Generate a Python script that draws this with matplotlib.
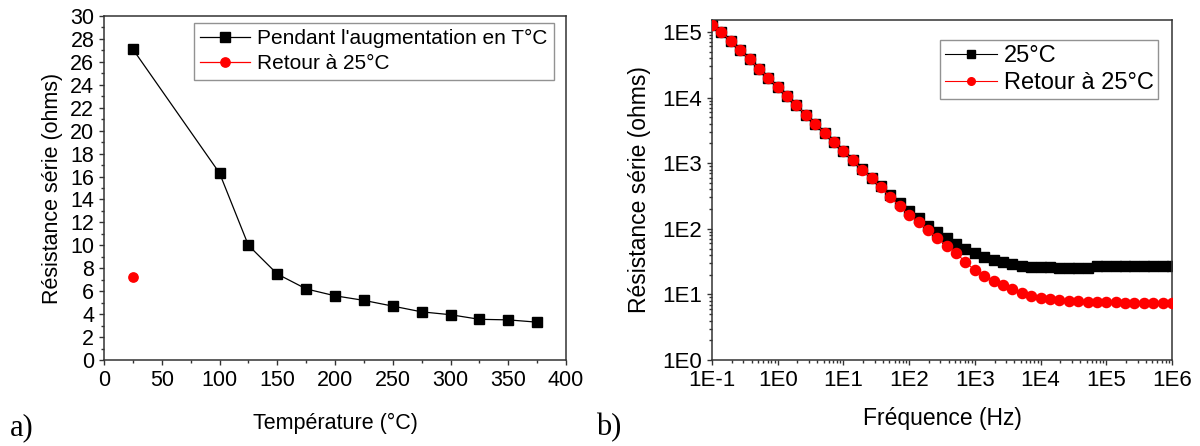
import numpy as np
import matplotlib
matplotlib.use("Agg")
import matplotlib.pyplot as plt
from matplotlib.ticker import MultipleLocator, LogLocator, FuncFormatter, NullFormatter

plt.rcParams['font.family'] = ['Liberation Sans', 'DejaVu Sans']

# --- Panel a) : series resistance vs temperature ---
temp_c = [25, 100, 125, 150, 175, 200, 225, 250, 275, 300, 325, 350, 375]
r_heating = [27.1, 16.3, 10.0, 7.5, 6.2, 5.6, 5.2, 4.7, 4.2, 3.95, 3.55, 3.5, 3.3]
temp_return = [25]
r_return = [7.2]

# --- Panel b) : series resistance vs frequency ---
freq_hz = [0.1, 0.139, 0.193, 0.268, 0.373, 0.518, 0.72,
           1.0, 1.39, 1.93, 2.68, 3.73, 5.18, 7.2,
           10, 13.9, 19.3, 26.8, 37.3, 51.8, 72,
           100, 139, 193, 268, 373, 518, 720,
           1000, 1390, 1930, 2680, 3730, 5180, 7200,
           1e4, 1.39e4, 1.93e4, 2.68e4, 3.73e4, 5.18e4, 7.2e4,
           1e5, 1.39e5, 1.93e5, 2.68e5, 3.73e5, 5.18e5, 7.2e5, 1e6]
r_25c = [128000, 100000, 72400, 52500, 38000, 27500, 19950,
         14450, 10470, 7590, 5500, 3990, 2900, 2110,
         1530, 1120, 813, 603, 447, 327, 245,
         186, 148, 110, 89, 73, 59, 49,
         42, 37.6, 33.9, 31.3, 29.2, 27.5, 26.6,
         26.0, 25.7, 25.4, 25.4, 25.4, 25.4, 27.4,
         27.4, 27.4, 27.4, 27.4, 27.4, 27.3, 27.3, 27.3]
r_back = [128000, 100000, 72400, 52500, 38000, 27500, 19950,
          14450, 10470, 7590, 5500, 3980, 2880, 2090,
          1510, 1100, 794, 590, 427, 302, 221,
          162, 126, 95, 72, 55, 42.7, 31,
          23.4, 19.0, 16.2, 13.8, 11.9, 10.5, 9.5,
          8.9, 8.4, 8.1, 7.9, 7.8, 7.7, 7.6,
          7.6, 7.55, 7.5, 7.5, 7.5, 7.5, 7.45, 7.45]

spine_col = '#333333'


def style_axes(ax):
    for side in ('top', 'right', 'left', 'bottom'):
        ax.spines[side].set_color(spine_col)
        ax.spines[side].set_linewidth(1.1)
    ax.tick_params(which='both', direction='out', top=False, right=False,
                   color=spine_col, width=1.0)
    ax.tick_params(which='major', length=3.5)
    ax.tick_params(which='minor', length=2)


fig = plt.figure(figsize=(12, 4.46), dpi=100)

# Left panel
ax1 = fig.add_axes([0.0867, 0.1928, 0.385, 0.7713])
ax1.plot(temp_c, r_heating, color='black', lw=0.9, marker='s', ms=6.5,
         label="Pendant l'augmentation en T°C")
ax1.plot(temp_return, r_return, color='red', lw=0.9, marker='o', ms=6.7,
         label='Retour à 25°C')
ax1.set_xlim(0, 400)
ax1.set_ylim(0, 30)
ax1.xaxis.set_major_locator(MultipleLocator(50))
ax1.xaxis.set_minor_locator(MultipleLocator(25))
ax1.yaxis.set_major_locator(MultipleLocator(2))
ax1.yaxis.set_minor_locator(MultipleLocator(1))
style_axes(ax1)
ax1.tick_params(labelsize=15.5)
ax1.set_xlabel('Température (°C)', fontsize=15.5, labelpad=16)
ax1.set_ylabel('Résistance série (ohms)', fontsize=15.5, labelpad=5)
leg1 = ax1.legend(loc='upper right', bbox_to_anchor=(0.974, 0.98), borderaxespad=0,
                  fontsize=15, handlelength=2.4, handletextpad=0.35,
                  labelspacing=0.3, borderpad=0.3, fancybox=False, frameon=True)
leg1.get_frame().set_edgecolor('#777777')
leg1.get_frame().set_linewidth(1.0)

# Right panel
ax2 = fig.add_axes([0.5933, 0.1928, 0.3834, 0.7624])
ax2.plot(freq_hz, r_25c, color='black', lw=0.8, marker='s', ms=7.0,
         label='25°C', zorder=2)
ax2.plot(freq_hz, r_back, color='red', lw=0.8, marker='o', ms=7.3,
         label='Retour à 25°C', zorder=3)
ax2.set_xscale('log')
ax2.set_yscale('log')
ax2.set_xlim(0.1, 1e6)
ax2.set_ylim(1, 1.52e5)
dec_fmt = FuncFormatter(lambda v, pos: f"1E{int(round(np.log10(v)))}")
for axis in (ax2.xaxis, ax2.yaxis):
    axis.set_major_locator(LogLocator(base=10, numticks=12))
    axis.set_minor_locator(LogLocator(base=10, subs=np.arange(2, 10), numticks=12))
    axis.set_major_formatter(dec_fmt)
    axis.set_minor_formatter(NullFormatter())
style_axes(ax2)
ax2.tick_params(labelsize=16)
ax2.set_xlabel('Fréquence (Hz)', fontsize=16.5, labelpad=12)
ax2.set_ylabel('Résistance série (ohms)', fontsize=16.5, labelpad=8)
leg2 = ax2.legend(loc='upper right', bbox_to_anchor=(0.97, 0.941), borderaxespad=0,
                  fontsize=17, handlelength=2.2, handletextpad=0.3,
                  labelspacing=0.22, borderpad=0.2, fancybox=False, frameon=True,
                  markerscale=0.75)
leg2.get_frame().set_edgecolor('#777777')
leg2.get_frame().set_linewidth(1.0)

fig.text(0.008, 0.025, 'a)', family=['Liberation Serif', 'DejaVu Serif'], fontsize=22)
fig.text(0.497, 0.025, 'b)', family=['Liberation Serif', 'DejaVu Serif'], fontsize=22)

fig.savefig('out.png', dpi=100)
